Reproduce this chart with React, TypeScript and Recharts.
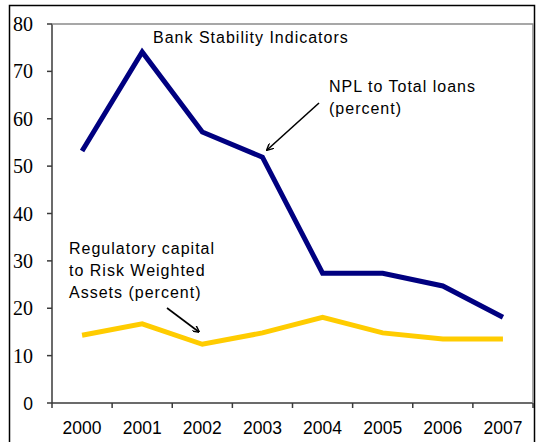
import React from 'react';
import { LineChart, Line, XAxis, YAxis } from 'recharts';

const years = ['2000', '2001', '2002', '2003', '2004', '2005', '2006', '2007'];
const nplToTotalLoans = [53.2, 74.1, 57.2, 51.9, 27.4, 27.4, 24.7, 18.1];
const capitalToRwa = [14.3, 16.7, 12.4, 14.8, 18.1, 14.8, 13.5, 13.5];
const yTicks = [0, 10, 20, 30, 40, 50, 60, 70, 80];

const data = years.map((year, i) => ({
  year,
  npl: nplToTotalLoans[i],
  car: capitalToRwa[i],
}));

const W = 536;
const H = 442;
const M = { top: 24, right: 3, bottom: 9, left: 0 };
const Y_AXIS_W = 52;
const X_AXIS_H = 30;
const PLOT_LEFT = M.left + Y_AXIS_W;
const PLOT_RIGHT = W - M.right;
const PLOT_TOP = M.top;
const PLOT_BOTTOM = H - M.bottom - X_AXIS_H;
const BAND = (PLOT_RIGHT - PLOT_LEFT) / years.length;
const AXIS_COLOR = '#3a3a3a';
const SANS = '"Liberation Sans", Arial, sans-serif';
const SERIF = '"Liberation Serif", "Times New Roman", serif';

const XTick = (props: any) => {
  const { x, payload, index } = props;
  const left = x - BAND / 2;
  const right = x + BAND / 2;
  return (
    <g>
      <line x1={left} x2={left} y1={PLOT_BOTTOM} y2={PLOT_BOTTOM + 5} stroke={AXIS_COLOR} strokeWidth={1.5} />
      {index === years.length - 1 && (
        <line x1={right} x2={right} y1={PLOT_BOTTOM} y2={PLOT_BOTTOM + 5} stroke={AXIS_COLOR} strokeWidth={1.5} />
      )}
      <text x={x} y={PLOT_BOTTOM + 31} textAnchor="middle" fontFamily={SANS} fontSize={17.5} fill="#000">
        {payload.value}
      </text>
    </g>
  );
};

const YTick = (props: any) => {
  const { y, payload } = props;
  const isZero = payload.value === 0;
  return (
    <g>
      <text
        x={PLOT_LEFT - 19}
        y={y + 7}
        textAnchor="end"
        fontFamily={isZero ? SANS : SERIF}
        fontSize={isZero ? 17.5 : 20}
        fill="#000"
      >
        {String(payload.value)}
      </text>
    </g>
  );
};

const annStyle: React.CSSProperties = {
  fontFamily: SANS,
  fontSize: 16,
  letterSpacing: 1,
  fill: '#000',
};

export default function App() {
  return (
    <div style={{ position: 'absolute', left: 0, top: 0, width: W, height: H, background: '#fff' }}>
      <LineChart width={W} height={H} data={data} margin={M}>
        <XAxis
          dataKey="year"
          height={X_AXIS_H}
          padding={{ left: BAND / 2, right: BAND / 2 }}
          axisLine={{ stroke: AXIS_COLOR, strokeWidth: 1.5 }}
          tickLine={false}
          tick={XTick}
          interval={0}
        />
        <YAxis
          width={Y_AXIS_W}
          domain={[0, 80]}
          ticks={yTicks}
          interval={0}
          axisLine={{ stroke: AXIS_COLOR, strokeWidth: 1.5 }}
          tickLine={{ stroke: AXIS_COLOR, strokeWidth: 1.5 }}
          tickSize={5}
          tick={YTick}
        />
        <Line type="linear" dataKey="npl" stroke="#000080" strokeWidth={5} dot={false} activeDot={false} isAnimationActive={false} />
        <Line type="linear" dataKey="car" stroke="#FFCC00" strokeWidth={5} dot={false} activeDot={false} isAnimationActive={false} />
      </LineChart>
      <svg width={W} height={H} style={{ position: 'absolute', left: 0, top: 0, pointerEvents: 'none' }}>
        <defs>
          <marker id="arrow" viewBox="0 0 10 10" refX="9" refY="5" markerWidth="7" markerHeight="7" orient="auto-start-reverse" markerUnits="userSpaceOnUse">
            <path d="M0,0 L10,5 L0,10" fill="none" stroke="#000" strokeWidth={2} />
          </marker>
        </defs>
        <rect x={9.5} y={5.5} width={525} height={445} fill="none" stroke="#000" strokeWidth={1.5} />
        <path
          d={`M${PLOT_LEFT},${PLOT_TOP} L${PLOT_RIGHT},${PLOT_TOP} L${PLOT_RIGHT},${PLOT_BOTTOM}`}
          fill="none"
          stroke="#8a8a8a"
          strokeWidth={1.5}
        />
        <text x={153} y={43} style={annStyle}>Bank Stability Indicators</text>
        <text x={329} y={92} style={annStyle}>NPL to Total loans</text>
        <text x={329} y={114} style={annStyle}>(percent)</text>
        <text x={69} y={254} style={annStyle}>Regulatory capital</text>
        <text x={69} y={276} style={annStyle}>to  Risk Weighted</text>
        <text x={69} y={298} style={annStyle}>Assets (percent)</text>
        <line x1={319} y1={103} x2={267} y2={150} stroke="#000" strokeWidth={1.6} markerEnd="url(#arrow)" />
        <line x1={167} y1={308} x2={199} y2={332} stroke="#000" strokeWidth={1.6} markerEnd="url(#arrow)" />
      </svg>
    </div>
  );
}
